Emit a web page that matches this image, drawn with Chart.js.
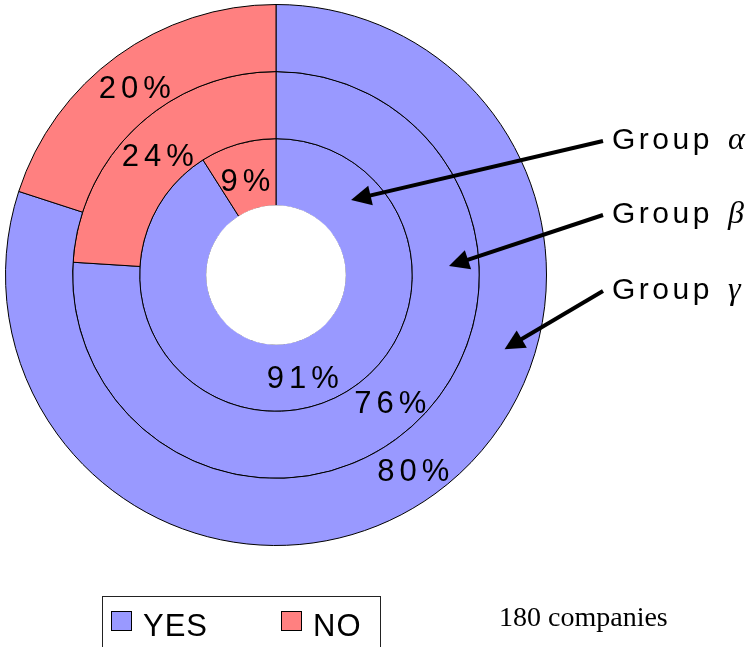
<!DOCTYPE html>
<html>
<head>
<meta charset="utf-8">
<script src="https://cdn.jsdelivr.net/npm/chart.js@4.4.1/dist/chart.umd.min.js"></script>
<style>
  html, body { margin: 0; padding: 0; background: #fff; overflow: hidden; }
  #wrap { position: relative; width: 752px; height: 647px; }
</style>
</head>
<body>
<div id="wrap"><canvas id="c" width="752" height="647"></canvas></div>
<script>
// Survey answers, one ring per group (outer ring first)
const answers = ['YES', 'NO'];
const ringNames = ['γ', 'β', 'α'];
const gammaValues = [80, 20];
const betaValues = [76, 24];
const alphaValues = [91, 9];
const answerColors = ['#9999FF', '#FF8080'];
const sampleNote = '180 companies';

// Where each group's pointer lands inside its ring (degrees clockwise from 12 o'clock)
const pointerAngles = [108, 87, 45];

const SANS = '"Liberation Sans", Arial, sans-serif';
const SERIF = '"Liberation Serif", "Times New Roman", serif';

function spacedText(ctx, text, x, y, spacing, align) {
  ctx.save();
  ctx.letterSpacing = spacing + 'px';
  ctx.textAlign = 'left';
  const w = ctx.measureText(text).width - spacing;
  let sx = x;
  if (align === 'center') sx = x - w / 2;
  ctx.fillText(text, sx, y);
  ctx.restore();
}

// Percent labels at the middle of every arc
const ringLabels = {
  id: 'ringLabels',
  afterDatasetsDraw(chart) {
    const ctx = chart.ctx;
    // clear the border drawn around the hole
    const innerMeta = chart.getDatasetMeta(chart.data.datasets.length - 1);
    const a0 = innerMeta.data[0];
    ctx.save();
    ctx.fillStyle = '#fff';
    ctx.beginPath();
    ctx.arc(a0.x, a0.y, a0.innerRadius + 0.6, 0, Math.PI * 2);
    ctx.fill();
    ctx.restore();

    ctx.save();
    ctx.fillStyle = '#000';
    ctx.font = '31px ' + SANS;
    ctx.textBaseline = 'middle';
    chart.data.datasets.forEach((ds, di) => {
      const meta = chart.getDatasetMeta(di);
      meta.data.forEach((arc, i) => {
        const mid = (arc.startAngle + arc.endAngle) / 2;
        const r = (arc.innerRadius + arc.outerRadius) / 2;
        const x = arc.x + Math.cos(mid) * r - 2;
        const y = arc.y + Math.sin(mid) * r + 6;
        spacedText(ctx, ds.data[i] + '%', x, y, 5, 'center');
      });
    });
    ctx.restore();
  }
};

// Group names on the right with arrows pointing into their rings
const groupPointers = {
  id: 'groupPointers',
  afterDraw(chart) {
    const ctx = chart.ctx;
    const area = chart.chartArea;
    const labelX = area.right + 65;
    const labelYs = [291, 215, 141];
    ctx.save();
    chart.data.datasets.forEach((ds, di) => {
      const meta = chart.getDatasetMeta(di);
      const arc = meta.data[0];
      const ang = (pointerAngles[di] - 90) * Math.PI / 180;
      const r = arc.innerRadius + 0.55 * (arc.outerRadius - arc.innerRadius);
      const tipX = arc.x + Math.cos(ang) * r;
      const tipY = arc.y + Math.sin(ang) * r;
      const tailX = labelX - 9;
      const tailY = labelYs[di];

      const dx = tipX - tailX, dy = tipY - tailY;
      const len = Math.hypot(dx, dy);
      const ux = dx / len, uy = dy / len;
      const headLen = 20, headHalf = 10;
      const bx = tipX - ux * headLen, by = tipY - uy * headLen;

      ctx.strokeStyle = '#000';
      ctx.fillStyle = '#000';
      ctx.lineWidth = 4;
      ctx.beginPath();
      ctx.moveTo(tailX, tailY);
      ctx.lineTo(bx + ux * 2, by + uy * 2);
      ctx.stroke();
      ctx.beginPath();
      ctx.moveTo(tipX, tipY);
      ctx.lineTo(bx - uy * headHalf, by + ux * headHalf);
      ctx.lineTo(bx + uy * headHalf, by - ux * headHalf);
      ctx.closePath();
      ctx.fill();

      ctx.textBaseline = 'middle';
      ctx.font = '30px ' + SANS;
      spacedText(ctx, 'Group', labelX, tailY, 3.5, 'left');
      ctx.font = 'italic 32px ' + SERIF;
      ctx.textAlign = 'left';
      ctx.fillText(ringNames[di], labelX + 116, tailY);
    });
    ctx.restore();
  }
};

// Boxed legend under the chart plus the sample note
const boxLegend = {
  id: 'boxLegend',
  afterDraw(chart) {
    const ctx = chart.ctx;
    ctx.save();
    ctx.strokeStyle = '#222';
    ctx.lineWidth = 1;
    ctx.strokeRect(102.5, 596.5, 278, 60);
    const itemX = [111, 281];
    chart.data.labels.forEach((lab, i) => {
      ctx.fillStyle = answerColors[i];
      ctx.fillRect(itemX[i], 611, 21, 20);
      ctx.strokeStyle = '#000';
      ctx.strokeRect(itemX[i] + 0.5, 611.5, 20, 19);
      ctx.fillStyle = '#000';
      ctx.font = '31px ' + SANS;
      ctx.textBaseline = 'alphabetic';
      spacedText(ctx, lab, itemX[i] + 32, 636, 1, 'left');
    });
    ctx.font = '28px ' + SERIF;
    ctx.fillStyle = '#000';
    ctx.textBaseline = 'alphabetic';
    ctx.textAlign = 'left';
    ctx.fillText(sampleNote, 499, 626);
    ctx.restore();
  }
};

new Chart(document.getElementById('c'), {
  type: 'doughnut',
  data: {
    labels: answers,
    datasets: [
      { label: 'Group γ', data: gammaValues, backgroundColor: answerColors, borderColor: '#000', borderWidth: 1 },
      { label: 'Group β', data: betaValues, backgroundColor: answerColors, borderColor: '#000', borderWidth: 1 },
      { label: 'Group α', data: alphaValues, backgroundColor: answerColors, borderColor: '#000', borderWidth: 1 }
    ]
  },
  options: {
    responsive: false,
    animation: false,
    devicePixelRatio: 1,
    cutout: '25.6%',
    layout: { padding: { left: 5, top: 4, right: 205, bottom: 101 } },
    plugins: {
      legend: { display: false },
      tooltip: { enabled: false }
    }
  },
  plugins: [ringLabels, groupPointers, boxLegend]
});
</script>
</body>
</html>
